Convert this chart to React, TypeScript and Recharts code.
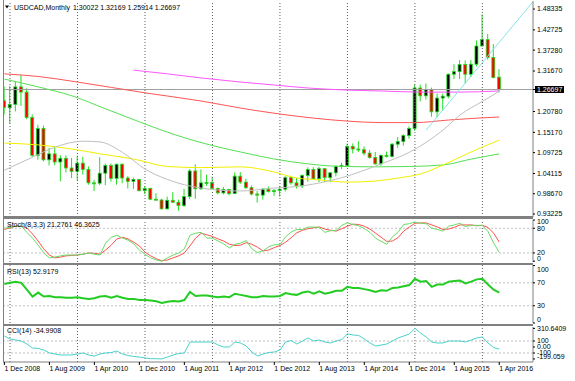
import { ComposedChart, Bar, Line, XAxis, YAxis, ReferenceLine } from 'recharts'

// monthly bars, Dec 2008 .. Apr 2016 (index 0 = Dec 2008)
const opens = [
  1.237, 1.218, 1.227, 1.274, 1.26, 1.192, 1.09, 1.162, 1.078, 1.094,
  1.072, 1.082, 1.056, 1.047, 1.069, 1.052, 1.016, 1.015, 1.042, 1.063,
  1.028, 1.066, 1.029, 1.02, 1.025, 0.995, 1.001, 0.972, 0.97, 0.946,
  0.969, 0.964, 0.955, 0.979, 1.048, 1.0, 1.016, 1.017, 1.001, 0.989,
  0.998, 0.987, 1.034, 1.018, 1.003, 0.986, 0.983, 0.999, 0.993, 0.995,
  0.999, 1.03, 1.016, 1.008, 1.036, 1.052, 1.027, 1.054, 1.03, 1.043,
  1.061, 1.063, 1.114, 1.107, 1.105, 1.096, 1.084, 1.067, 1.09, 1.087,
  1.12, 1.127, 1.143, 1.162, 1.271, 1.25, 1.267, 1.207, 1.244, 1.249,
  1.308, 1.315, 1.334, 1.308, 1.335, 1.384, 1.401, 1.353, 1.30022,
]
const highs = [
  1.275, 1.276, 1.288, 1.3065, 1.27, 1.2, 1.172, 1.17, 1.11, 1.11,
  1.09, 1.09, 1.083, 1.089, 1.086, 1.06, 1.024, 1.085, 1.068, 1.068,
  1.068, 1.068, 1.034, 1.03, 1.026, 1.007, 1.003, 0.988, 0.973, 0.979,
  0.991, 0.971, 1.0, 1.053, 1.066, 1.052, 1.038, 1.032, 1.004, 1.005,
  1.0, 1.044, 1.045, 1.027, 1.009, 0.994, 1.002, 1.006, 0.999, 1.008,
  1.034, 1.035, 1.029, 1.039, 1.058, 1.058, 1.059, 1.056, 1.045, 1.062,
  1.07, 1.122, 1.122, 1.128, 1.114, 1.104, 1.099, 1.092, 1.1, 1.123,
  1.139, 1.147, 1.168, 1.28, 1.28, 1.283, 1.272, 1.256, 1.256, 1.31,
  1.335, 1.346, 1.345, 1.346, 1.399, 1.469, 1.416, 1.389, 1.32169,
]
const lows = [
  1.2, 1.175, 1.208, 1.223, 1.187, 1.086, 1.078, 1.074, 1.063, 1.063,
  1.02, 1.044, 1.029, 1.022, 1.038, 1.011, 0.994, 1.01, 1.01, 1.019,
  1.011, 1.015, 1.001, 1.0, 0.993, 0.986, 0.97, 0.969, 0.945, 0.945,
  0.962, 0.941, 0.951, 0.972, 0.973, 0.997, 1.008, 0.999, 0.985, 0.985,
  0.982, 0.986, 1.013, 0.999, 0.982, 0.963, 0.971, 0.99, 0.981, 0.979,
  0.993, 1.011, 1.001, 1.002, 1.019, 1.025, 1.018, 1.018, 1.018, 1.033,
  1.053, 1.061, 1.095, 1.099, 1.09, 1.081, 1.065, 1.062, 1.084, 1.084,
  1.11, 1.116, 1.135, 1.156, 1.235, 1.24, 1.194, 1.192, 1.211, 1.243,
  1.295, 1.295, 1.283, 1.3, 1.329, 1.382, 1.347, 1.297, 1.25914,
]
const closes = [
  1.218, 1.227, 1.274, 1.26, 1.192, 1.09, 1.162, 1.078, 1.094, 1.072,
  1.082, 1.056, 1.047, 1.069, 1.052, 1.016, 1.015, 1.042, 1.063, 1.028,
  1.066, 1.029, 1.02, 1.025, 0.995, 1.001, 0.972, 0.97, 0.946, 0.969,
  0.964, 0.955, 0.979, 1.048, 1.0, 1.016, 1.017, 1.001, 0.989, 0.998,
  0.987, 1.034, 1.018, 1.003, 0.986, 0.983, 0.999, 0.993, 0.995, 0.999,
  1.03, 1.016, 1.008, 1.036, 1.052, 1.027, 1.054, 1.03, 1.043, 1.061,
  1.063, 1.114, 1.107, 1.105, 1.096, 1.084, 1.067, 1.09, 1.087, 1.12,
  1.127, 1.143, 1.162, 1.271, 1.25, 1.267, 1.207, 1.244, 1.249, 1.308,
  1.315, 1.334, 1.308, 1.335, 1.384, 1.401, 1.353, 1.299, 1.26697,
]

// moving averages at a few months each
const grayIdx = [0, 5, 9, 14, 17, 21, 25, 29, 35, 42, 47, 53, 60, 67, 72, 78, 81, 85, 88]
const grayVals = [1.05, 1.085, 1.112, 1.128, 1.126, 1.098, 1.053, 1.025, 1.002, 0.994, 1.001, 1.008, 1.03, 1.067, 1.098, 1.158, 1.198, 1.235, 1.262]
const yellowIdx = [0, 6, 12, 17, 23, 29, 35, 42, 48, 52, 56, 61, 66, 70, 74, 78, 83, 88]
const yellowVals = [1.123, 1.118, 1.107, 1.094, 1.08, 1.06, 1.057, 1.059, 1.045, 1.029, 1.024, 1.018, 1.021, 1.029, 1.04, 1.064, 1.099, 1.131]
const greenIdx = [0, 6, 12, 18, 24, 30, 36, 42, 48, 54, 60, 66, 72, 78, 83, 88]
const greenVals = [1.295, 1.274, 1.25, 1.215, 1.18, 1.147, 1.12, 1.099, 1.08, 1.067, 1.06, 1.059, 1.06, 1.064, 1.08, 1.094]
const redIdx = [0, 6, 13, 25, 35, 42, 49, 55, 61, 67, 73, 79, 84, 88]
const redVals = [1.309, 1.302, 1.287, 1.258, 1.236, 1.217, 1.201, 1.19, 1.182, 1.178, 1.178, 1.185, 1.19, 1.193]
const pinkIdx = [23, 29, 35, 42, 48, 54, 60, 67, 74, 81, 88]
const pinkVals = [1.319, 1.309, 1.298, 1.287, 1.279, 1.271, 1.266, 1.263, 1.26, 1.26, 1.263]

// drawn trend line: two anchor points (month index, price)
const trendIdx = [75, 94]
const trendVals = [1.158, 1.503]

const lastPrice = 1.26697

const stochMain = [
  80, 82, 85, 85, 70, 56, 39, 20, 8, 10, 13, 15, 15, 15, 17, 20, 17, 15, 44, 58,
  63, 56, 51, 42, 27, 17, 8, 3, 0, 8, 15, 20, 30, 63, 68, 70, 56, 56, 49, 42,
  32, 41, 44, 50, 30, 21, 25, 35, 40, 40, 59, 71, 77, 77, 83, 83, 82, 70, 74, 75,
  87, 93, 89, 86, 79, 70, 56, 48, 41, 59, 70, 89, 91, 95, 92, 91, 80, 77, 73, 85,
  88, 92, 84, 87, 87, 87, 72, 44, 21.28,
]
const stochSignal = [
  77, 81, 85, 85, 80, 66, 49, 30, 15, 8, 10, 13, 14, 15, 17, 20, 19, 17, 27, 39,
  54, 58, 54, 46, 37, 22, 13, 6, 1, 3, 8, 13, 20, 37, 56, 68, 64, 60, 54, 49,
  41, 38, 39, 45, 41, 34, 25, 27, 33, 38, 46, 57, 69, 75, 79, 81, 83, 78, 75, 73,
  79, 85, 90, 89, 85, 78, 68, 58, 48, 49, 57, 73, 83, 92, 93, 93, 88, 83, 77, 78,
  82, 88, 88, 88, 86, 87, 82, 68, 46.36,
]
const rsi = [
  68, 70, 72, 70, 58, 46, 53, 46, 47, 45, 45, 44, 44, 45, 43, 42, 43, 46, 47, 44,
  47, 44, 42, 42, 40, 40, 39, 38, 35, 37, 38.5, 37.5, 40, 54, 47, 48, 48, 46, 45, 46,
  45, 51, 49, 47, 45, 45, 47, 46, 46, 47, 52, 50, 49, 53, 55, 51, 55, 51, 53, 56,
  56, 63, 61, 61, 59, 57, 54, 57, 56, 61, 62, 64, 66, 77, 72, 73, 63, 67, 67, 72,
  73, 74, 69, 72, 76, 77, 67, 58, 52.92,
]
const cci = [
  183, 133, 117, 100, 50, -17, -25, -50, -100, -117, -133, -133, -133, -117, -100, -133, -150, -117, -100, -92,
  -67, -117, -142, -158, -167, -183, -195, -195, -199, -167, -133, -108, -100, 83, 83, 83, 83, 83, 33, 0,
  0, 83, 67, 17, -83, -150, -117, -92, -83, -50, 83, 108, 50, 100, 150, 100, 117, 83, 67, 100,
  125, 217, 200, 192, 133, 67, 17, 33, 50, 100, 150, 183, 217, 310.6, 233, 167, 83, 67, 67, 100,
  100, 100, 83, 117, 150, 167, 67, -10, -35,
]

const priceTicks = [1.48335, 1.42725, 1.3728, 1.3167, lastPrice, 1.2078, 1.1517, 1.09725, 1.04115, 0.9867, 0.93225]
const stochTicks = [100, 80, 20, 0]
const rsiTicks = [100, 70, 30, 0]
const cciTicks = [310.6409, 100, 0, -100, -199.059]
const cciTickLabels = ['310.6409', '100', '0.00', '-100', '-199.059']
const xTickIdx = [0, 8, 16, 24, 32, 40, 48, 56, 64, 72, 80, 88]
const xTickLabels = ['1 Dec 2008', '1 Aug 2009', '1 Apr 2010', '1 Dec 2010', '1 Aug 2011', '1 Apr 2012', '1 Dec 2012', '1 Aug 2013', '1 Apr 2014', '1 Dec 2014', '1 Aug 2015', '1 Apr 2016']
const yearStartIdx = [1, 13, 25, 37, 49, 61, 73, 85]

const candles = closes.map((c, i) => ({
  idx: i,
  open: opens[i],
  high: highs[i],
  low: lows[i],
  close: c,
  range: [lows[i], highs[i]],
}))
const toSeries = (idx: number[], vals: number[]) => idx.map((x, i) => ({ idx: x, v: vals[i] }))
const grayMa = toSeries(grayIdx, grayVals)
const yellowMa = toSeries(yellowIdx, yellowVals)
const greenMa = toSeries(greenIdx, greenVals)
const redMa = toSeries(redIdx, redVals)
const pinkMa = toSeries(pinkIdx, pinkVals)
const trend = toSeries(trendIdx, trendVals)
const indicators = closes.map((_, i) => ({
  idx: i,
  k: stochMain[i],
  d: stochSignal[i],
  rsi: rsi[i],
  cci: cci[i],
}))

const FONT = 'Liberation Sans'
const WICK = '#22dd22'
const FRAME = '#808080'
const X_DOMAIN: [number, number] = [-0.25, 94]
const W = 575

function Candle(props: any) {
  const { x, y, width, height, payload } = props
  if (!payload || !Number.isFinite(y)) return null
  const top = Math.min(y, y + height)
  const h = Math.abs(height)
  const cx = x + width / 2
  const k = h / (payload.high - payload.low)
  const yOf = (v: number) => top + (payload.high - v) * k
  const bodyTop = yOf(Math.max(payload.open, payload.close))
  const bodyH = Math.max(1, Math.abs(yOf(payload.open) - yOf(payload.close)))
  const up = payload.close >= payload.open
  return (
    <g>
      <line x1={cx} x2={cx} y1={top} y2={top + h} stroke={WICK} strokeWidth={1} />
      <rect x={cx - 1.5} y={bodyTop} width={3} height={bodyH} fill={up ? '#000' : '#ff0000'} stroke={WICK} strokeWidth={0.8} />
    </g>
  )
}

function PriceTick(props: any) {
  const { x, y, payload } = props
  const v = payload.value as number
  if (v === lastPrice) {
    return (
      <g>
        <rect x={x - 2} y={y - 3.5} width={29} height={7} fill="#000" />
        <text x={x} y={y} dy="0.35em" fontFamily={FONT} fontSize={7} fill="#fff">{v.toFixed(5)}</text>
      </g>
    )
  }
  return (
    <text x={x} y={y} dy="0.35em" fontFamily={FONT} fontSize={7} fill="#000">{v.toFixed(5)}</text>
  )
}

function makeTick(fmt: (v: number) => string, minY: number, maxY: number) {
  return function Tick(props: any) {
    const { x, y, payload } = props
    const ty = Math.min(Math.max(y, minY), maxY)
    return (
      <text x={x} y={ty} dy="0.35em" fontFamily={FONT} fontSize={7} fill="#000">{fmt(payload.value)}</text>
    )
  }
}
const StochTick = makeTick((v) => String(v), 3.5, 40.5)
const RsiTick = makeTick((v) => String(v), 7, 56.5)
const CciTick = makeTick((v) => cciTickLabels[cciTicks.indexOf(v)] ?? String(v), 5, 33)

function DateTick(props: any) {
  const { x, y, payload } = props
  const label = xTickLabels[xTickIdx.indexOf(payload.value)]
  return (
    <text x={x} y={y} dy="0.71em" textAnchor="start" fontFamily={FONT} fontSize={7} fill="#000">{label}</text>
  )
}

const yearLines = () =>
  yearStartIdx.map((i) => (
    <ReferenceLine key={'g' + i} x={i} stroke="#606060" strokeDasharray="1 2" />
  ))

const levelLine = (v: number) => (
  <ReferenceLine key={'l' + v} y={v} stroke="#c0c0c0" strokeDasharray="2 2" />
)

const rightAxisProps = {
  orientation: 'right' as const,
  width: 42,
  allowDataOverflow: true,
  interval: 0 as const,
  tickSize: 2,
  axisLine: { stroke: FRAME },
  tickLine: { stroke: '#000' },
}

export default function App() {
  return (
    <div style={{ position: 'absolute', left: 0, top: 0, width: W, height: 381, background: '#fff', overflow: 'hidden' }}>
      <div style={{ position: 'absolute', left: 0, top: 0 }}>
        <ComposedChart width={W} height={218} data={candles} margin={{ top: 1, right: 0, bottom: 1, left: 3 }}>
          <XAxis type="number" dataKey="idx" domain={X_DOMAIN} allowDataOverflow hide />
          <YAxis {...rightAxisProps} domain={[0.9242, 1.5049]} ticks={priceTicks} tick={PriceTick} />
          {yearLines()}
          <ReferenceLine y={lastPrice} stroke="#a0a0a0" />
          <Line data={pinkMa} dataKey="v" type="monotone" stroke="#ff55ff" strokeWidth={1} dot={false} isAnimationActive={false} />
          <Line data={redMa} dataKey="v" type="monotone" stroke="#ff5555" strokeWidth={1} dot={false} isAnimationActive={false} />
          <Line data={greenMa} dataKey="v" type="monotone" stroke="#55e055" strokeWidth={1} dot={false} isAnimationActive={false} />
          <Line data={yellowMa} dataKey="v" type="monotone" stroke="#f0f000" strokeWidth={1} dot={false} isAnimationActive={false} />
          <Line data={grayMa} dataKey="v" type="monotone" stroke="#bfbfbf" strokeWidth={1} dot={false} isAnimationActive={false} />
          <Bar dataKey="range" barSize={3} shape={Candle} isAnimationActive={false} />
          <Line data={trend} dataKey="v" type="linear" stroke="#86e3e6" strokeWidth={1} dot={false} isAnimationActive={false} />
        </ComposedChart>
      </div>

      <div style={{ position: 'absolute', left: 0, top: 218 }}>
        <ComposedChart width={W} height={45} data={indicators} margin={{ top: 2, right: 0, bottom: 1, left: 3 }}>
          <XAxis type="number" dataKey="idx" domain={X_DOMAIN} allowDataOverflow hide />
          <YAxis {...rightAxisProps} domain={[-2, 100]} ticks={stochTicks} tick={StochTick} />
          {yearLines()}
          {levelLine(80)}
          {levelLine(20)}
          <Line dataKey="d" type="linear" stroke="#ff5050" strokeWidth={1} dot={false} isAnimationActive={false} />
          <Line dataKey="k" type="linear" stroke="#66dd66" strokeWidth={1} dot={false} isAnimationActive={false} />
        </ComposedChart>
      </div>

      <div style={{ position: 'absolute', left: 0, top: 263 }}>
        <ComposedChart width={W} height={61} data={indicators} margin={{ top: 2, right: 0, bottom: 1, left: 3 }}>
          <XAxis type="number" dataKey="idx" domain={X_DOMAIN} allowDataOverflow hide />
          <YAxis {...rightAxisProps} domain={[0, 101]} ticks={rsiTicks} tick={RsiTick} />
          {yearLines()}
          {levelLine(70)}
          {levelLine(30)}
          <Line dataKey="rsi" type="linear" stroke="#22cc22" strokeWidth={2} dot={false} isAnimationActive={false} />
        </ComposedChart>
      </div>

      <div style={{ position: 'absolute', left: 0, top: 324 }}>
        <ComposedChart width={W} height={57} data={indicators} margin={{ top: 3, right: 0, bottom: 0, left: 3 }}>
          <XAxis
            type="number"
            dataKey="idx"
            domain={X_DOMAIN}
            allowDataOverflow
            ticks={xTickIdx}
            interval={0}
            height={19}
            tickSize={3}
            tickMargin={1}
            tick={DateTick}
            axisLine={{ stroke: FRAME }}
            tickLine={{ stroke: '#000' }}
          />
          <YAxis {...rightAxisProps} domain={[-250, 333.3]} ticks={cciTicks} tick={CciTick} />
          {yearLines()}
          {levelLine(100)}
          {levelLine(-100)}
          <Line dataKey="cci" type="linear" stroke="#48d1cc" strokeWidth={1} dot={false} isAnimationActive={false} />
        </ComposedChart>
      </div>

      {/* panel frame and separators */}
      <div style={{ position: 'absolute', left: 2.5, top: 0, width: 1, height: 362, background: FRAME }} />
      <div style={{ position: 'absolute', left: 3, top: 216, width: 530, height: 3, background: FRAME }} />
      <div style={{ position: 'absolute', left: 3, top: 262.5, width: 530, height: 2, background: FRAME }} />
      <div style={{ position: 'absolute', left: 3, top: 323.5, width: 530, height: 2.5, background: FRAME }} />

      <svg width={W} height={381} style={{ position: 'absolute', left: 0, top: 0, pointerEvents: 'none' }}>
        <path d="M5 5.5 L9 5.5 L7 8.5 Z" fill="#000" />
        <text x={14} y={7.5} dominantBaseline="central" fontFamily={FONT} fontSize={7} fill="#000">USDCAD,Monthly</text>
        <text x={73} y={7.5} dominantBaseline="central" fontFamily={FONT} fontSize={7} fill="#000">1.30022 1.32169 1.25914 1.26697</text>
        <text x={7} y={224} dominantBaseline="central" fontFamily={FONT} fontSize={7} fill="#000">Stoch(8,3,3) 21.2761 46.3625</text>
        <text x={7} y={271} dominantBaseline="central" fontFamily={FONT} fontSize={7} fill="#000">RSI(13) 52.9179</text>
        <text x={7} y={330.5} dominantBaseline="central" fontFamily={FONT} fontSize={7} fill="#000">CCI(14) -34.9908</text>
      </svg>
    </div>
  )
}
